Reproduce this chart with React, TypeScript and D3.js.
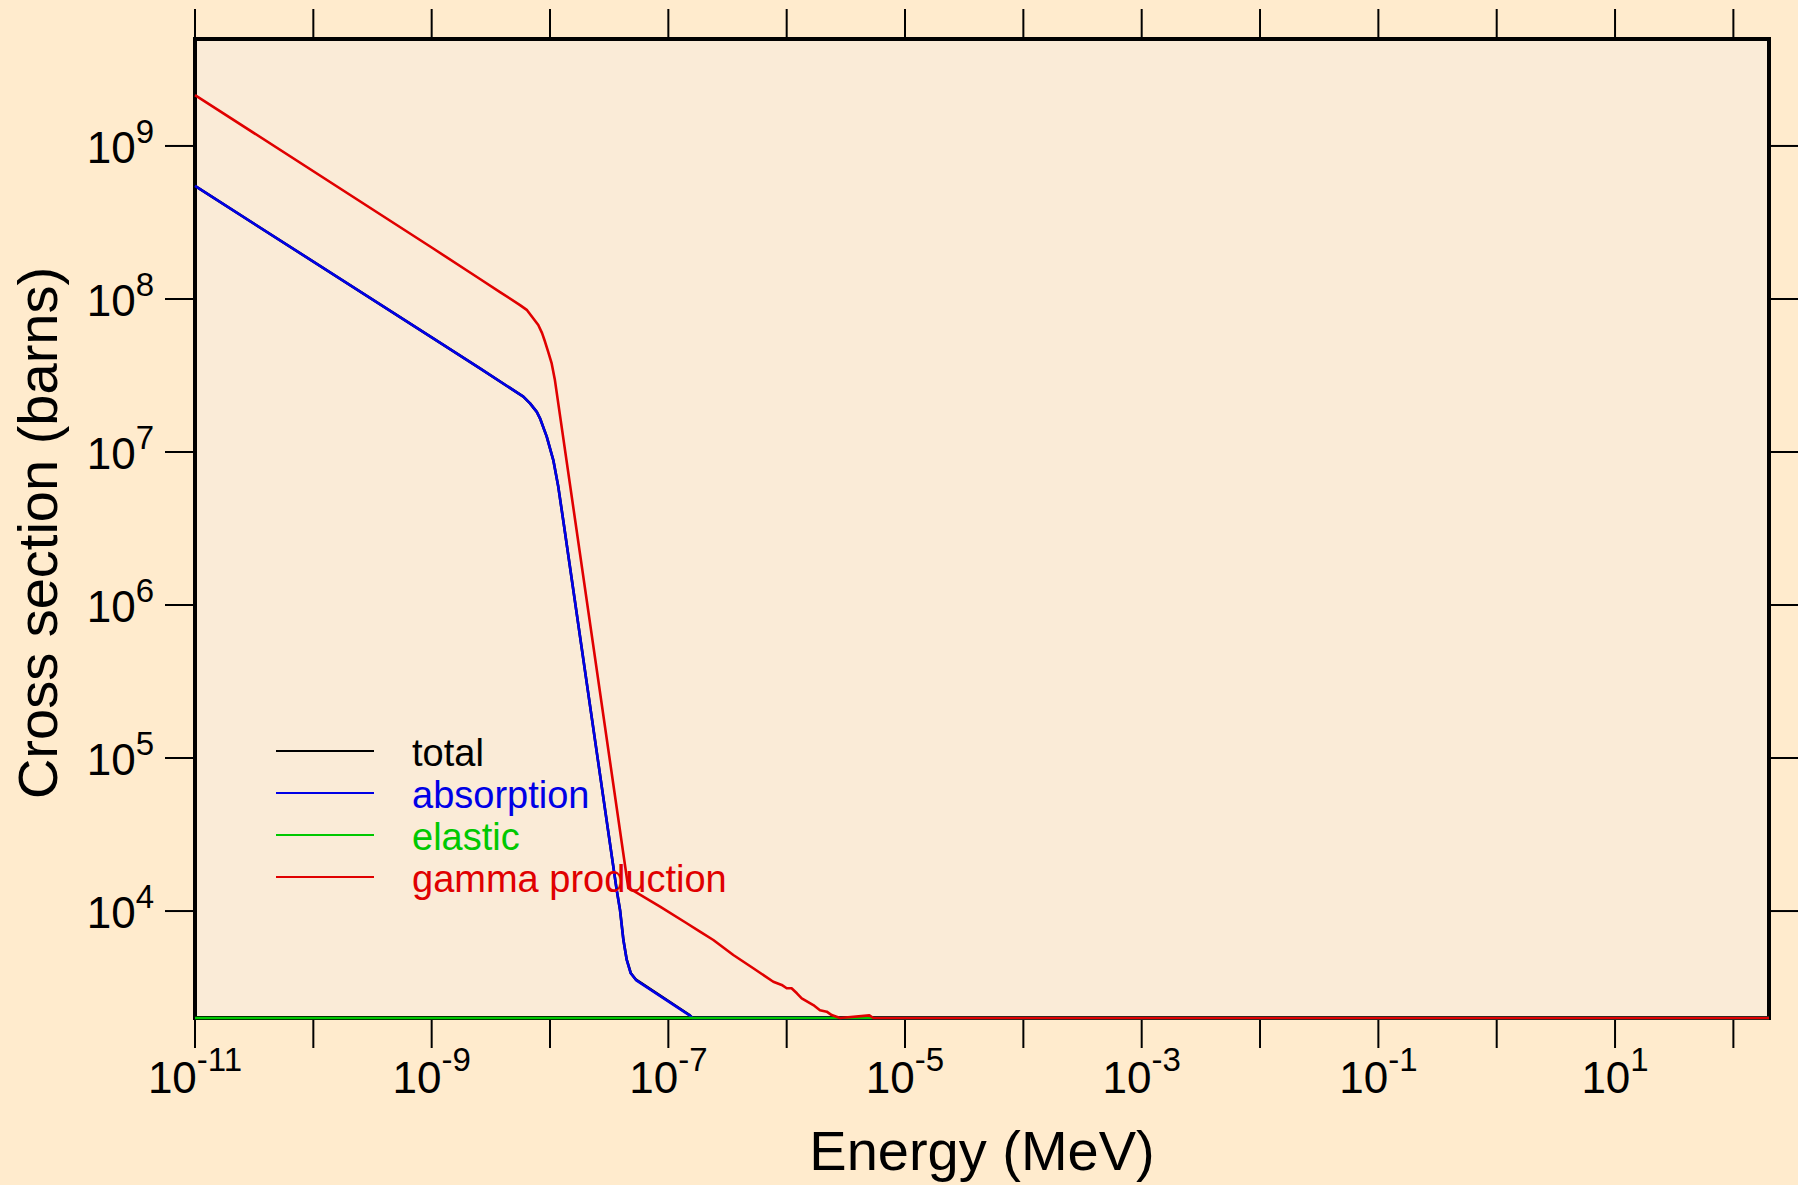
import { useEffect, useRef } from "react";
import * as d3 from "d3";

const WIDTH = 1798;
const HEIGHT = 1185;

// energies in MeV, cross sections in barns
const absorptionEnergy = [
  1e-11, 1e-9, 2.56e-9, 5.95e-9, 6.78e-9, 7.73e-9, 8.23e-9, 9.38e-9, 1.066e-8, 1.175e-8,
  1.295e-8, 3.66e-8, 3.905e-8, 4.17e-8, 4.45e-8, 4.81e-8, 5.33e-8, 1.5e-7, 1.6e-7, 3.16e-7,
  1e-6, 1e-5, 1e-3, 0.1, 10, 200,
];
const absorptionXs = [
  5.48e8, 5.61e7, 3.52e7, 2.3e7, 2.08e7, 1.83e7, 1.66e7, 1.26e7, 8.85e6, 5.92e6,
  3.55e6, 1.373e4, 1.016e4, 6.47e3, 4.79e3, 3.92e3, 3.54e3, 2.09e3, 1.9e3, 1.45e3,
  810, 250, 30, 4, 1, 0.5,
];

const totalEnergy = absorptionEnergy;
const totalXs = [
  5.48e8, 5.61e7, 3.52e7, 2.3e7, 2.08e7, 1.83e7, 1.66e7, 1.26e7, 8.85e6, 5.92e6,
  3.55e6, 1.375e4, 1.018e4, 6.49e3, 4.81e3, 3.94e3, 3.56e3, 2.1e3, 1.91e3, 1.46e3,
  824, 264, 42, 14, 7, 4.5,
];

const elasticEnergy = [1e-11, 1e-9, 1e-7, 1e-5, 1e-3, 0.1, 10, 200];
const elasticXs = [20, 18, 16, 14, 12, 10, 6, 4];

const gammaEnergy = [
  1e-11, 1e-9, 2.56e-9, 3.78e-9, 5.58e-9, 6.4e-9, 7.23e-9, 7.96e-9, 8.57e-9, 9.08e-9,
  9.67e-9, 1.033e-8, 1.1e-8, 4.59e-8, 5.22e-8, 8.51e-8, 1.43e-7, 1.85e-7, 2.4e-7, 3.54e-7,
  5.22e-7, 7.71e-7, 9.08e-7, 1e-6, 1.1e-6, 1.22e-6, 1.34e-6, 1.68e-6, 1.91e-6, 2.18e-6,
  2.4e-6, 2.82e-6, 5e-6, 5.4e-6, 1e-5, 1e-4, 1e-2, 1, 10, 200,
];
const gammaXs = [
  2.15e9, 2.17e8, 1.35e8, 1.11e8, 9.12e7, 8.45e7, 7.46e7, 6.76e7, 5.98e7, 5.25e7,
  4.5e7, 3.79e7, 2.95e7, 1.41e4, 1.34e4, 1.07e4, 8.32e3, 7.33e3, 6.47e3, 5.16e3,
  4.23e3, 3.45e3, 3.29e3, 3.13e3, 3.13e3, 2.9e3, 2.69e3, 2.43e3, 2.25e3, 2.2e3,
  2.09e3, 1.9e3, 2.08e3, 1.85e3, 1.6e3, 1e3, 400, 150, 80, 50,
];

const xTickExponents = [-11, -10, -9, -8, -7, -6, -5, -4, -3, -2, -1, 0, 1, 2];
const xLabelExponents = ["-11", "-9", "-7", "-5", "-3", "-1", "1"];
const yTickExponents = ["4", "5", "6", "7", "8", "9"];

const legendNames = ["total", "absorption", "elastic", "gamma production"];
const seriesColors = ["#000000", "#0000e6", "#00c800", "#e00000"];

const FONT = "'Liberation Sans', Arial, Helvetica, sans-serif";

export const CrossSectionChart = () => {
  const chartRef = useRef<HTMLDivElement>(null);

  useEffect(() => {
    d3.select(chartRef.current).select("svg").remove();

    const left = 195;
    const right = 1769;
    const top = 39;
    const bottom = 1018;

    const svg = d3
      .select(chartRef.current)
      .append("svg")
      .attr("width", WIDTH)
      .attr("height", HEIGHT)
      .style("display", "block");

    svg.append("rect").attr("width", WIDTH).attr("height", HEIGHT).attr("fill", "#ffebcd");

    const x = d3.scaleLog().domain([1e-11, 200]).range([left, right]);
    const y = d3.scaleLog().domain([2e3, 5e9]).range([bottom, top]).clamp(true);

    svg
      .append("rect")
      .attr("x", left)
      .attr("y", top)
      .attr("width", right - left)
      .attr("height", bottom - top)
      .attr("fill", "#faebd7");

    const tickLen = 30;
    const ticks = svg.append("g").attr("stroke", "#000").attr("stroke-width", 2);

    xTickExponents.forEach((e) => {
      const px = x(Math.pow(10, e));
      ticks.append("line").attr("x1", px).attr("x2", px).attr("y1", bottom).attr("y2", bottom + tickLen);
      ticks.append("line").attr("x1", px).attr("x2", px).attr("y1", top).attr("y2", top - tickLen);
    });
    yTickExponents.forEach((e) => {
      const py = y(Math.pow(10, +e));
      ticks.append("line").attr("x1", left - tickLen).attr("x2", left).attr("y1", py).attr("y2", py);
      ticks.append("line").attr("x1", right).attr("x2", right + tickLen).attr("y1", py).attr("y2", py);
    });

    // tick labels as 10 with superscript exponent
    xLabelExponents.forEach((e) => {
      const t = svg
        .append("text")
        .attr("x", x(Math.pow(10, +e)))
        .attr("y", 1093)
        .attr("text-anchor", "middle")
        .attr("font-family", FONT)
        .attr("font-size", 44)
        .attr("fill", "#000");
      t.append("tspan").text("10");
      t.append("tspan").attr("dy", -22).attr("font-size", 33).text(e);
    });
    yTickExponents.forEach((e) => {
      const t = svg
        .append("text")
        .attr("x", 154)
        .attr("y", y(Math.pow(10, +e)) + 17)
        .attr("text-anchor", "end")
        .attr("font-family", FONT)
        .attr("font-size", 44)
        .attr("fill", "#000");
      t.append("tspan").text("10");
      t.append("tspan").attr("dy", -20).attr("font-size", 33).text(e);
    });

    // frame
    svg
      .append("rect")
      .attr("x", left)
      .attr("y", top)
      .attr("width", right - left)
      .attr("height", bottom - top)
      .attr("fill", "none")
      .attr("stroke", "#000")
      .attr("stroke-width", 4);

    const line = d3
      .line<[number, number]>()
      .x((d) => x(d[0]))
      .y((d) => y(d[1]));

    const series: [number, number][][] = [
      totalEnergy.map((e, i) => [e, totalXs[i]]),
      absorptionEnergy.map((e, i) => [e, absorptionXs[i]]),
      elasticEnergy.map((e, i) => [e, elasticXs[i]]),
      gammaEnergy.map((e, i) => [e, gammaXs[i]]),
    ];

    series.forEach((pts, i) => {
      svg
        .append("path")
        .attr("d", line(pts) as string)
        .attr("fill", "none")
        .attr("stroke", seriesColors[i])
        .attr("stroke-width", 2.6)
        .attr("stroke-linejoin", "round");
    });

    // legend
    const legend = svg.append("g");
    legendNames.forEach((name, i) => {
      const ly = 751 + i * 42;
      legend
        .append("line")
        .attr("x1", 276)
        .attr("x2", 374)
        .attr("y1", ly)
        .attr("y2", ly)
        .attr("stroke", seriesColors[i])
        .attr("stroke-width", 2.2);
      legend
        .append("text")
        .attr("x", 412)
        .attr("y", ly + 15)
        .attr("font-family", FONT)
        .attr("font-size", 38)
        .attr("fill", seriesColors[i])
        .text(name);
    });

    // axis titles
    svg
      .append("text")
      .attr("x", (left + right) / 2)
      .attr("y", 1170)
      .attr("text-anchor", "middle")
      .attr("font-family", FONT)
      .attr("font-size", 56)
      .attr("fill", "#000")
      .text("Energy (MeV)");

    svg
      .append("text")
      .attr("transform", `translate(57, 533) rotate(-90)`)
      .attr("text-anchor", "middle")
      .attr("font-family", FONT)
      .attr("font-size", 56)
      .attr("fill", "#000")
      .text("Cross section (barns)");
  }, []);

  return <div ref={chartRef} style={{ position: "absolute", left: 0, top: 0 }} />;
};

export default function App() {
  return <CrossSectionChart />;
}
